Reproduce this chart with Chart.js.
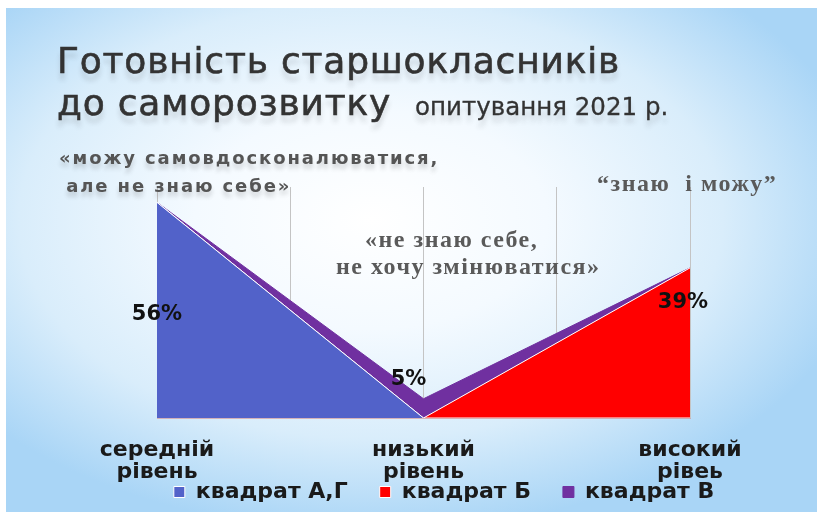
<!DOCTYPE html>
<html>
<head>
<meta charset="utf-8">
<script src="https://cdn.jsdelivr.net/npm/chart.js@4/dist/chart.umd.min.js"></script>
<style>
    html, body { margin: 0; padding: 0; background: #ffffff; }
    body { width: 817px; height: 512px; position: relative; overflow: hidden; }
    #slide {
        position: absolute; left: 6px; top: 8px; width: 811px; height: 504px;
        background: radial-gradient(ellipse 62% 62% at 45% 42%, #ffffff 0%, #f4faff 35%, #d9edfb 70%, #a9d5f6 100%);
    }
    #chartfield { position: absolute; left: 0; top: 0; }
    .txt { position: absolute; white-space: pre; }
    .title {
        font-family: "DejaVu Sans", sans-serif; color: #333; font-size: 36px;
        letter-spacing: 0.8px; -webkit-text-stroke: 0.6px #333;
        text-shadow: 0 7px 5px rgba(60,60,60,0.18);
    }
    .sub { font-size: 24.5px; letter-spacing: 0; -webkit-text-stroke: 0.3px #333; }
    .note {
        font-family: "DejaVu Sans", sans-serif; font-weight: bold; color: #555;
        font-size: 18px; letter-spacing: 1.9px; text-shadow: 0 5px 4px rgba(60,60,60,0.2);
    }
    .serif {
        font-family: "Liberation Serif", serif; font-weight: bold; color: #5a5a5a;
        font-size: 24px; letter-spacing: 1.5px;
    }
</style>
</head>
<body>
<div id="slide"></div>
<canvas id="chartfield" width="817" height="512"></canvas>
<div class="txt title" style="left:57px; top:40px;">Готовність старшокласників</div>
<div class="txt title" style="left:57px; top:82px;">до саморозвитку<span class="sub" style="margin-left:24px;">опитування 2021 р.</span></div>
<div class="txt note" style="left:59px; top:147px;">«можу самовдосконалюватися,</div>
<div class="txt note" style="left:58px; top:175px;"> але не знаю себе»</div>
<div class="txt serif" style="left:365px; top:226px;">«не знаю себе,</div>
<div class="txt serif" style="left:336px; top:253px;">не хочу змінюватися»</div>
<div class="txt serif" style="left:597px; top:170px;">“знаю  і можу”</div>
<script>
const categories = [["середній", "рівень"], ["низький", "рівень"], ["високий", "рівеь"]];
const seriesNames = ["квадрат А,Г", "квадрат Б", "квадрат В"];
const seriesAG = [56, 0, 0];
const seriesB = [0, 0, 39];
const seriesV = [0, 5, 0];
const valueLabels = ["56%", "5%", "39%"];

const font = "'DejaVu Sans', sans-serif";
const legendGap = 32;

// percent labels, placed from the scales
const labelPlugin = {
    id: "valueLabels",
    afterDatasetsDraw(chart) {
        const ctx = chart.ctx;
        const xs = chart.scales.x;
        const ys = chart.scales.y;
        ctx.save();
        ctx.font = "bold 21px " + font;
        ctx.fillStyle = "#111";
        ctx.textAlign = "center";
        ctx.textBaseline = "middle";
        ctx.fillText(valueLabels[0], xs.getPixelForValue(0), ys.getPixelForValue(seriesAG[0] / 2) + 4);
        ctx.fillText(valueLabels[1], xs.getPixelForValue(1) - 15, ys.getPixelForValue(seriesV[1]) - 19);
        ctx.fillText(valueLabels[2], xs.getPixelForValue(2) - 7, ys.getPixelForValue(seriesB[2]) + 35);
        ctx.restore();
    },
};

// legend overlaps the second tick line on the slide, move it there
const legendShift = {
    id: "legendShift",
    afterLayout(chart) {
        const lg = chart.legend;
        const dx = 444 - (lg.left + lg.right) / 2;
        lg.left += dx;
        lg.right += dx;
        lg.top = 492 - legendGap - 11;
        lg.bottom = 512;
        lg.height = lg.bottom - lg.top;
    },
};

function drawChart(canvas) {
    return new Chart(canvas, {
        type: "line",
        data: {
            labels: categories,
            datasets: [
                {
                    label: seriesNames[0],
                    data: seriesAG,
                    backgroundColor: "#5262c9",
                    borderColor: "#ffffff",
                    borderWidth: 1,
                    fill: "origin",
                },
                {
                    label: seriesNames[1],
                    data: seriesB,
                    backgroundColor: "#ff0000",
                    borderColor: "#ffffff",
                    borderWidth: 1,
                    fill: "-1",
                },
                {
                    label: seriesNames[2],
                    data: seriesV,
                    backgroundColor: "#7030a0",
                    borderColor: "#7030a0",
                    borderWidth: 1,
                    fill: "-1",
                },
            ],
        },
        options: {
            responsive: false,
            animation: false,
            elements: { point: { radius: 0 }, line: { tension: 0 } },
            layout: { padding: { left: 0, right: 0, top: 187, bottom: 0 } },
            scales: {
                x: {
                    type: "category",
                    offset: false,
                    grid: { display: false },
                    border: { display: true, color: "rgba(210,140,140,0.6)" },
                    ticks: {
                        color: "#1a1a1a",
                        font: { family: font, size: 22, weight: "bold", lineHeight: 1.02 },
                        padding: 13,
                        maxRotation: 0,
                        autoSkip: false,
                    },
                    afterFit(scale) { scale.height = 72; },
                },
                xg: {
                    type: "linear",
                    position: "top",
                    min: 0,
                    max: 2,
                    ticks: { display: false, stepSize: 0.5 },
                    grid: { color: "#c4c4c4", lineWidth: 1, drawTicks: false },
                    border: { display: false },
                },
                y: {
                    stacked: true,
                    min: 0,
                    max: 60,
                    ticks: { display: false },
                    grid: { display: false, drawTicks: false },
                    border: { display: false },
                    afterFit(scale) { scale.width = 157; },
                },
                yr: {
                    position: "right",
                    ticks: { display: false },
                    grid: { display: false, drawTicks: false },
                    border: { display: false },
                    afterFit(scale) { scale.width = 127; },
                },
            },
            plugins: {
                legend: {
                    position: "bottom",
                    maxHeight: 22,
                    labels: {
                        color: "#1a1a1a",
                        font: { family: font, size: 22, weight: "bold" },
                        boxWidth: 11,
                        boxHeight: 11,
                        padding: legendGap,
                    },
                },
                tooltip: { enabled: false },
            },
        },
        plugins: [labelPlugin, legendShift],
    });
}

let chart = null;

document.addEventListener("DOMContentLoaded", () => {
    const chartCanvas = document.querySelector("#chartfield").getContext("2d");
    chart = drawChart(chartCanvas);
});
</script>
</body>
</html>
